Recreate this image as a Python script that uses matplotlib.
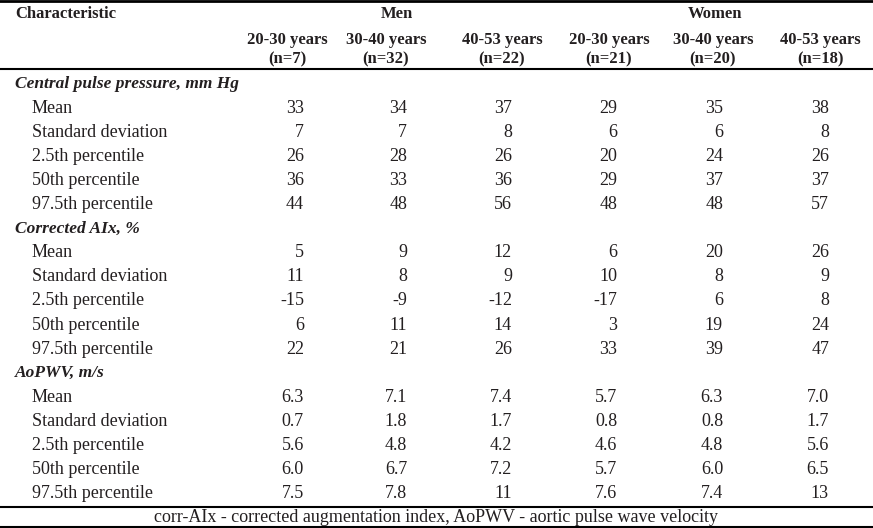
import matplotlib.pyplot as plt

# Table content ...........................................................
groups = ['Men', 'Women']
age_bands = ['20-30 years', '30-40 years', '40-53 years',
             '20-30 years', '30-40 years', '40-53 years']
n_labels = ['(n=7)', '(n=32)', '(n=22)', '(n=21)', '(n=20)', '(n=18)']
stat_labels = ['Mean', 'Standard deviation', '2.5th percentile',
               '50th percentile', '97.5th percentile']

sections = ['Central pulse pressure, mm Hg', 'Corrected AIx, %', 'AoPWV, m/s']
cpp_vals = [['33', '34', '37', '29', '35', '38'],
            ['7', '7', '8', '6', '6', '8'],
            ['26', '28', '26', '20', '24', '26'],
            ['36', '33', '36', '29', '37', '37'],
            ['44', '48', '56', '48', '48', '57']]
aix_vals = [['5', '9', '12', '6', '20', '26'],
            ['11', '8', '9', '10', '8', '9'],
            ['-15', '-9', '-12', '-17', '6', '8'],
            ['6', '11', '14', '3', '19', '24'],
            ['22', '21', '26', '33', '39', '47']]
pwv_vals = [['6.3', '7.1', '7.4', '5.7', '6.3', '7.0'],
            ['0.7', '1.8', '1.7', '0.8', '0.8', '1.7'],
            ['5.6', '4.8', '4.2', '4.6', '4.8', '5.6'],
            ['6.0', '6.7', '7.2', '5.7', '6.0', '6.5'],
            ['7.5', '7.8', '11', '7.6', '7.4', '13']]
footnote = 'corr-AIx - corrected augmentation index, AoPWV - aortic pulse wave velocity'

# Layout (pixels) .........................................................
W, H = 873, 528
col_right = [304, 407, 512, 617, 723, 829]
col_head = [287, 386, 502, 609, 713, 820]
group_x = [397, 715]
row0 = 84.5
dy = 24.05
fs = 13			# body text
fs_b = 12		# bold header text
fs_i = 12.5		# italic section headings
txt = '#231f20'

plt.rcParams['font.family'] = ['Liberation Serif', 'DejaVu Serif']
fig = plt.figure(figsize=(W / 100, H / 100), dpi=100)
ax = fig.add_axes([0, 0, 1, 1])
ax.set_xlim(0, W)
ax.set_ylim(H, 0)
ax.axis('off')

# Header ..................................................................
ax.text(15, 14, 'Characteristic', fontsize=fs_b, fontweight='bold', color=txt, va='center')
for g, x in zip(groups, group_x):
	ax.text(x, 14, g, fontsize=fs_b, fontweight='bold', color=txt, va='center', ha='center')
for k in range(len(age_bands)):
	ax.text(col_head[k], 40, age_bands[k], fontsize=fs_b, fontweight='bold', color=txt, va='center', ha='center')
	ax.text(col_head[k], 59, n_labels[k], fontsize=fs_b, fontweight='bold', color=txt, va='center', ha='center')

# Body ....................................................................
y = row0
for name, vals in zip(sections, [cpp_vals, aix_vals, pwv_vals]):
	ax.text(15, y, name, fontsize=fs_i, fontstyle='italic', fontweight='bold', color=txt, va='center')
	y += dy
	for lab, row in zip(stat_labels, vals):
		ax.text(32, y, lab, fontsize=fs, color=txt, va='center')
		for k in range(len(row)):
			ax.text(col_right[k], y, row[k], fontsize=fs, color=txt, va='center', ha='right')
		y += dy

ax.text(W / 2, 517, footnote, fontsize=fs, color=txt, va='center', ha='center')

# Rules ...................................................................
for yy, lw in [(1, 2.0), (69, 1.5), (507, 1.5), (527, 1.5)]:
	ax.plot([0, W], [yy, yy], color='black', linewidth=lw)

fig.savefig('out.png', dpi=100)
